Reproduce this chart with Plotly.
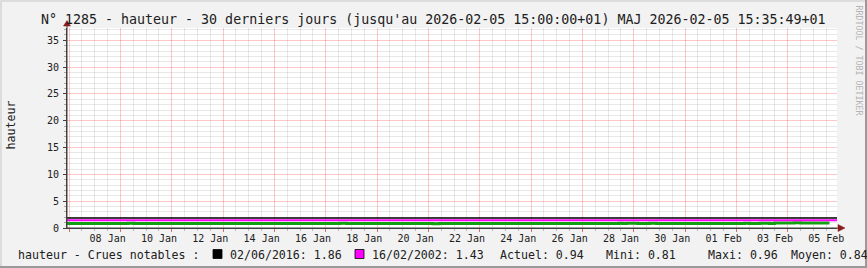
import plotly.graph_objects as go

# ---------------- data ----------------
range_start = "2026-01-06 22:00"
range_end = "2026-02-05 22:00"

level_times = [
    "2026-01-06 22:00", "2026-01-09 07:00", "2026-01-09 12:40",
    "2026-01-17 13:10", "2026-01-17 19:20", "2026-01-21 04:00",
    "2026-01-21 10:00", "2026-01-28 10:00", "2026-01-28 13:40",
    "2026-01-28 17:20", "2026-01-29 03:40", "2026-01-29 14:50",
    "2026-01-29 21:20", "2026-02-02 07:40", "2026-02-02 12:20",
    "2026-02-02 21:40", "2026-02-03 07:00", "2026-02-03 11:40",
    "2026-02-04 06:00", "2026-02-04 12:00", "2026-02-05 15:00",
]
level_values = [
    0.82, 0.90, 0.82,
    0.90, 0.82, 0.81,
    0.82, 0.89, 0.86,
    0.90, 0.84, 0.89,
    0.82, 0.88, 0.85,
    0.90, 0.86, 0.94,
    0.96, 0.94, 0.94,
]

notable_labels = ["02/06/2016", "16/02/2002"]
notable_values = [1.86, 1.43]

stat_labels = ["Actuel", "Mini", "Maxi", "Moyen"]
stat_values = [0.94, 0.81, 0.96, 0.84]

tick_times = [
    "2026-01-08 12:00", "2026-01-10 12:00", "2026-01-12 12:00",
    "2026-01-14 12:00", "2026-01-16 12:00", "2026-01-18 12:00",
    "2026-01-20 12:00", "2026-01-22 12:00", "2026-01-24 12:00",
    "2026-01-26 12:00", "2026-01-28 12:00", "2026-01-30 12:00",
    "2026-02-01 12:00", "2026-02-03 12:00", "2026-02-05 12:00",
]
tick_labels = [
    "08 Jan", "10 Jan", "12 Jan", "14 Jan", "16 Jan", "18 Jan", "20 Jan",
    "22 Jan", "24 Jan", "26 Jan", "28 Jan", "30 Jan", "01 Feb", "03 Feb",
    "05 Feb",
]
y_ticks = [0, 5, 10, 15, 20, 25, 30, 35]

title_text = ("N° 1285 - hauteur - 30 derniers jours (jusqu'au 2026-02-05 "
              "15:00:00+01) MAJ 2026-02-05 15:35:49+01")
legend_title = "hauteur - Crues notables :"
y_title = "hauteur"
watermark = "RRDTOOL / TOBI OETIKER"

# ---------------- layout constants ----------------
FIG_W, FIG_H = 867, 268
L, R, T, B = 67, 30, 28, 40
W = FIG_W - L - R
H = FIG_H - T - B
MONO = "DejaVu Sans Mono"
TXT = "#202020"
notable_colors = ["#000000", "#FF00FF"]
GREEN = "#10a010"
ARROW = "#8b1a1a"
AXIS = "#404040"
MAJ_GRID = "rgba(255,40,40,0.26)"
MIN_GRID = "rgba(0,0,0,0.09)"


def px(x):
    return (x - L) / W


def py(y):
    return (T + H - y) / H


fig = go.Figure()

# measured level (main x axis)
fig.add_trace(go.Scatter(
    x=level_times, y=level_values, mode="lines",
    line=dict(color=GREEN, width=3, shape="hv"),
    hoverinfo="skip", showlegend=False,
))

# notable flood levels (drawn on the label axis, same scale)
for val, col, wid in zip(notable_values, notable_colors, [1.6, 2.0]):
    fig.add_trace(go.Scatter(
        x=[range_start, range_end], y=[val, val], mode="lines",
        line=dict(color=col, width=wid), xaxis="x2",
        hoverinfo="skip", showlegend=False,
    ))

fig.update_layout(
    width=FIG_W, height=FIG_H, autosize=False,
    margin=dict(l=L, r=R, t=T, b=B, pad=0),
    paper_bgcolor="#F2F2F2", plot_bgcolor="#FFFFFF",
    font=dict(family=MONO, size=10, color=TXT),
    showlegend=False,
    xaxis=dict(
        type="date", range=[range_start, range_end],
        tick0="2026-01-07", dtick=2 * 86400000,
        showticklabels=False,
        showgrid=True, gridcolor=MAJ_GRID, gridwidth=1,
        ticks="outside", ticklen=3, tickcolor="rgba(200,60,60,0.7)",
        minor=dict(tick0="2026-01-07", dtick=43200000, showgrid=True,
                   gridcolor=MIN_GRID, gridwidth=1,
                   ticks="outside", ticklen=2, tickcolor="#bbbbbb"),
        showline=True, linecolor=AXIS, linewidth=1,
        zeroline=False, fixedrange=True,
    ),
    xaxis2=dict(
        type="date", range=[range_start, range_end],
        overlaying="x", anchor="y", side="bottom",
        tickmode="array", tickvals=tick_times, ticktext=tick_labels,
        showgrid=False, showline=False,
        ticks="outside", ticklen=1, tickcolor="rgba(0,0,0,0)",
        zeroline=False,
        tickfont=dict(family=MONO, size=10, color=TXT),
    ),
    yaxis=dict(
        range=[0, 37.3], tickmode="linear", tick0=y_ticks[0],
        dtick=y_ticks[1] - y_ticks[0],
        showgrid=True, gridcolor=MAJ_GRID, gridwidth=1,
        ticks="outside", ticklen=3, tickcolor=AXIS,
        ticklabelstandoff=2,
        minor=dict(tickmode="linear", tick0=0, dtick=1, showgrid=True,
                   gridcolor=MIN_GRID, gridwidth=1,
                   ticks="outside", ticklen=2, tickcolor="#aaaaaa"),
        showline=True, linecolor=AXIS, linewidth=1,
        zeroline=False, tickfont=dict(family=MONO, size=10, color=TXT),
    ),
)

ann = []
# title
ann.append(dict(text=title_text, xref="paper", yref="paper",
                x=px(FIG_W / 2), y=py(19.5), xanchor="center", yanchor="middle",
                showarrow=False, font=dict(family=MONO, size=13.3, color=TXT)))
# y-axis title
ann.append(dict(text=y_title, xref="paper", yref="paper",
                x=px(10.5), y=py(125), xanchor="center", yanchor="middle",
                textangle=-90, showarrow=False,
                font=dict(family=MONO, size=11.6, color=TXT)))
# watermark
ann.append(dict(text=watermark, xref="paper", yref="paper",
                x=px(858.5), y=py(60), xanchor="center", yanchor="middle",
                textangle=90, showarrow=False,
                font=dict(family=MONO, size=8.3, color="#b4b4b4")))

LEG_Y = py(254.5)
LEG_FONT = dict(family=MONO, size=11.6, color=TXT)
ann.append(dict(text=legend_title, xref="paper", yref="paper", x=px(16),
                y=LEG_Y, xanchor="left", yanchor="middle", showarrow=False,
                font=LEG_FONT))
shapes = []
for i, (lab, val, col) in enumerate(zip(notable_labels, notable_values,
                                        notable_colors)):
    x0 = 213 + 142 * i
    shapes.append(dict(type="rect", xref="paper", yref="paper",
                       x0=px(x0), x1=px(x0 + 9), y0=py(258.5), y1=py(249.5),
                       fillcolor=col, line=dict(color="#000000", width=0.8)))
    ann.append(dict(text=f"{lab}: {val:.2f}", xref="paper", yref="paper",
                    x=px(x0 + 14.7), y=LEG_Y, xanchor="left", yanchor="middle",
                    showarrow=False, font=LEG_FONT))
for lab, val, x0 in zip(stat_labels, stat_values, [498, 604, 706, 789]):
    ann.append(dict(text=f"{lab}: {val:.2f}", xref="paper", yref="paper",
                    x=px(x0), y=LEG_Y, xanchor="left", yanchor="middle",
                    showarrow=False, font=LEG_FONT))

# axis extensions and arrows
shapes.append(dict(type="line", xref="paper", yref="paper",
                   x0=px(67), x1=px(67), y0=py(228), y1=py(23),
                   line=dict(color=AXIS, width=1)))
shapes.append(dict(type="line", xref="paper", yref="paper",
                   x0=px(67), x1=px(841), y0=py(228), y1=py(228),
                   line=dict(color=AXIS, width=1)))
shapes.append(dict(type="path", xref="paper", yref="paper",
                   path=f"M {px(63.5)} {py(26)} L {px(67)} {py(20.5)} "
                        f"L {px(70.5)} {py(26)} Z",
                   fillcolor=ARROW, line=dict(color=ARROW, width=0.5)))
shapes.append(dict(type="path", xref="paper", yref="paper",
                   path=f"M {px(838)} {py(224.5)} L {px(845)} {py(228)} "
                        f"L {px(838)} {py(231.5)} Z",
                   fillcolor=ARROW, line=dict(color=ARROW, width=0.5)))
# frame
shapes.append(dict(type="line", xref="paper", yref="paper",
                   x0=px(1), x1=px(1), y0=py(0), y1=py(268),
                   line=dict(color="#dcdcdc", width=2)))
shapes.append(dict(type="line", xref="paper", yref="paper",
                   x0=px(0), x1=px(867), y0=py(1), y1=py(1),
                   line=dict(color="#dcdcdc", width=2)))
shapes.append(dict(type="line", xref="paper", yref="paper",
                   x0=px(866), x1=px(866), y0=py(0), y1=py(268),
                   line=dict(color="#9a9a9a", width=2)))
shapes.append(dict(type="line", xref="paper", yref="paper",
                   x0=px(0), x1=px(867), y0=py(267), y1=py(267),
                   line=dict(color="#9a9a9a", width=2)))

fig.update_layout(annotations=ann, shapes=shapes)
fig.write_html("out.html", config={"displayModeBar": False})
